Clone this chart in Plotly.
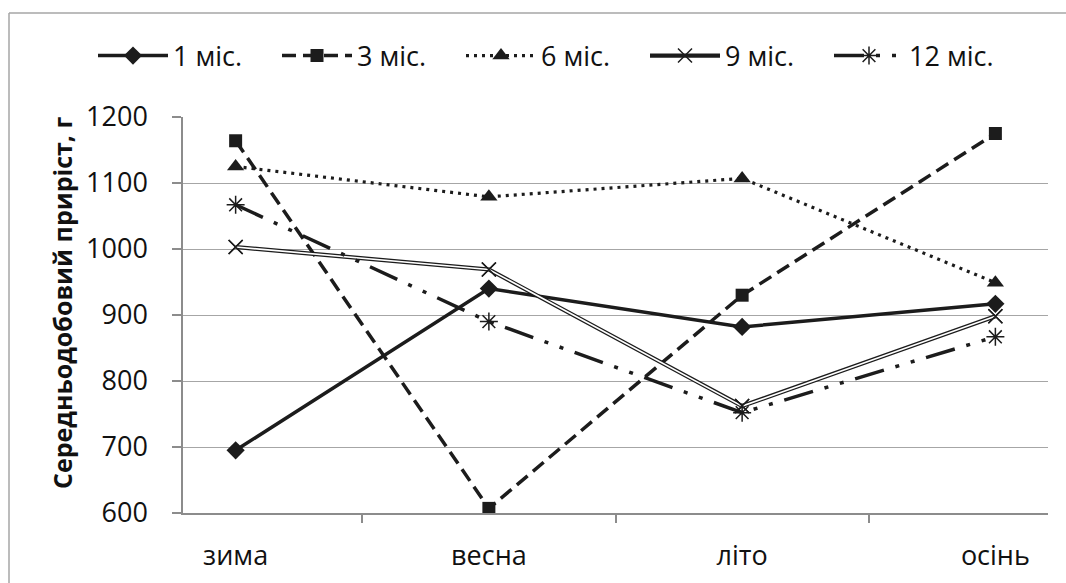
import plotly.graph_objects as go

seasons = ["зима", "весна", "літо", "осінь"]
m1 = [695, 940, 882, 917]
m3 = [1164, 607, 930, 1175]
m6 = [1125, 1079, 1107, 949]
m9 = [1003, 969, 762, 898]
m12 = [1067, 890, 752, 867]
series_names = ["1 міс.", "3 міс.", "6 міс.", "9 міс.", "12 міс."]
y_title = "Середньодобовий приріст, г"

INK = "#1c1c1c"
FONT = "Open Sans"

fig = go.Figure()

fig.add_trace(go.Scatter(
    x=seasons, y=m1, name=series_names[0], mode="lines+markers",
    line=dict(color=INK, width=3.5),
    marker=dict(symbol="diamond", size=14, color=INK)))

fig.add_trace(go.Scatter(
    x=seasons, y=m3, name=series_names[1], mode="lines+markers",
    line=dict(color=INK, width=3.5, dash="14px,7px"),
    marker=dict(symbol="square", size=13, color=INK)))

fig.add_trace(go.Scatter(
    x=seasons, y=m6, name=series_names[2], mode="lines+markers",
    line=dict(color=INK, width=3.2, dash="3px,5px"),
    marker=dict(symbol="triangle-up", size=15, color=INK)))

fig.add_trace(go.Scatter(
    x=seasons, y=m9, name=series_names[3], mode="lines+markers",
    line=dict(color=INK, width=4.2),
    marker=dict(symbol="x-thin-open", size=14, color=INK,
                line=dict(color=INK, width=1.5))))
fig.add_trace(go.Scatter(
    x=seasons, y=m9, mode="lines", showlegend=False, hoverinfo="skip",
    line=dict(color="white", width=1.6)))
fig.add_trace(go.Scatter(
    x=seasons, y=m9, mode="markers", showlegend=False, hoverinfo="skip",
    marker=dict(symbol="x-thin-open", size=14, color=INK,
                line=dict(color=INK, width=1.5))))

fig.add_trace(go.Scatter(
    x=seasons, y=m12, name=series_names[4], mode="lines+markers",
    line=dict(color=INK, width=3.5, dash="30px,12px,4px,12px,4px,12px"),
    marker=dict(symbol="asterisk-open", size=15, color=INK,
                line=dict(color=INK, width=1.5))))

L, R, T, B = 183, 18, 117, 70
W, H = 1066, 583
pw, ph = W - L - R, H - T - B

def px_x(p):
    return (p - L) / pw

def px_y(p):
    return (H - B - p) / ph

fig.update_layout(
    width=W, height=H,
    margin=dict(l=L, r=R, t=T, b=B, autoexpand=False),
    paper_bgcolor="white", plot_bgcolor="white",
    font=dict(family=FONT, size=26, color="#111111"),
    showlegend=True,
    legend=dict(
        orientation="h",
        x=px_x(93), xanchor="left",
        y=px_y(56), yanchor="middle",
        font=dict(size=27),
        itemwidth=70,
        entrywidth=99, entrywidthmode="pixels",
        bgcolor="rgba(0,0,0,0)",
    ),
    shapes=[
        dict(type="line", xref="paper", yref="paper",
             x0=px_x(9), x1=px_x(9), y0=px_y(583), y1=px_y(13),
             line=dict(color="#a6a6a6", width=1.5), layer="above"),
        dict(type="line", xref="paper", yref="paper",
             x0=px_x(9), x1=px_x(1066), y0=px_y(13), y1=px_y(13),
             line=dict(color="#a6a6a6", width=1.5), layer="above"),
    ],
    annotations=[dict(
        text="<b>" + y_title + "</b>", textangle=-90,
        xref="paper", yref="paper",
        x=px_x(62), y=px_y(303),
        xanchor="center", yanchor="middle", showarrow=False,
        font=dict(size=25, color="#111111"))],
)

fig.update_xaxes(
    type="category", categoryorder="array", categoryarray=seasons,
    showgrid=False, showline=True, linecolor="#8c8c8c", linewidth=1.5,
    ticks="outside", tickson="boundaries", ticklen=8, tickcolor="#8c8c8c",
    tickwidth=1.5, tickfont=dict(size=27), ticklabelstandoff=18,
    automargin=False,
)

fig.update_yaxes(
    range=[600, 1200], dtick=100, tick0=600,
    showgrid=True, gridcolor="#a6a6a6", gridwidth=1.3,
    showline=True, linecolor="#8c8c8c", linewidth=1.5,
    ticks="outside", ticklen=9, tickcolor="#8c8c8c", tickwidth=1.5,
    tickfont=dict(size=27), ticklabelstandoff=19, zeroline=False,
    automargin=False,
)

fig.write_html("out.html", config={"displayModeBar": False},
               post_script="document.body.style.margin='0';")
